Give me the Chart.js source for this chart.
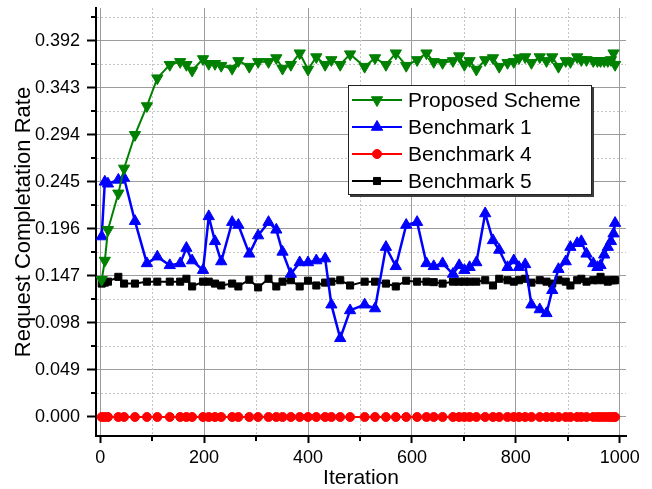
<!DOCTYPE html>
<html>
<head>
<meta charset="utf-8">
<script src="https://cdn.jsdelivr.net/npm/chart.js@4/dist/chart.umd.min.js"></script>
<style>
html,body{margin:0;padding:0;background:#fff;}
canvas{display:block;}
</style>
</head>
<body>
<canvas id="c" width="652" height="489"></canvas>
<script>
const iterations = [3,9,15,35,46,67,90,110,134,154,166,177,198,209,221,233,254,266,287,304,324,339,351,367,384,400,416,433,445,462,481,509,529,550,569,589,610,628,642,659,679,691,701,711,724,741,756,768,784,796,806,818,830,846,859,870,882,896,905,918,926,936,949,957,963,970,977,983,988,991];

const proposedScheme = [0.143,0.163,0.195,0.233,0.259,0.294,0.324,0.353,0.367,0.370,0.367,0.361,0.373,0.368,0.368,0.366,0.363,0.371,0.365,0.370,0.370,0.374,0.363,0.367,0.379,0.362,0.375,0.367,0.372,0.367,0.378,0.365,0.374,0.367,0.379,0.366,0.372,0.379,0.370,0.369,0.371,0.376,0.367,0.371,0.362,0.372,0.374,0.365,0.369,0.370,0.374,0.375,0.369,0.375,0.371,0.375,0.365,0.371,0.370,0.375,0.372,0.372,0.371,0.371,0.371,0.371,0.371,0.372,0.379,0.367];

const benchmark1 = [0.188,0.245,0.243,0.247,0.249,0.204,0.160,0.167,0.158,0.160,0.176,0.163,0.153,0.209,0.183,0.162,0.203,0.200,0.170,0.189,0.203,0.195,0.172,0.149,0.161,0.161,0.163,0.165,0.117,0.082,0.111,0.117,0.113,0.177,0.157,0.200,0.203,0.160,0.157,0.160,0.149,0.158,0.153,0.156,0.161,0.212,0.184,0.174,0.156,0.163,0.156,0.159,0.117,0.112,0.108,0.132,0.154,0.162,0.177,0.181,0.183,0.170,0.160,0.156,0.158,0.169,0.177,0.183,0.191,0.202];

const benchmark4 = [0,0,0,0,0,0,0,0,0,0,0,0,0,0,0,0,0,0,0,0,0,0,0,0,0,0,0,0,0,0,0,0,0,0,0,0,0,0,0,0,0,0,0,0,0,0,0,0,0,0,0,0,0,0,0,0,0,0,0,0,0,0,0,0,0,0,0,0,0,0];

const benchmark5 = [0.139,0.140,0.141,0.146,0.139,0.139,0.141,0.141,0.141,0.141,0.144,0.136,0.141,0.141,0.139,0.137,0.139,0.136,0.143,0.135,0.144,0.136,0.141,0.1425,0.136,0.142,0.137,0.140,0.141,0.1425,0.137,0.141,0.141,0.139,0.136,0.142,0.141,0.141,0.1405,0.139,0.141,0.141,0.141,0.141,0.141,0.1425,0.137,0.144,0.1425,0.141,0.1425,0.144,0.140,0.1425,0.141,0.139,0.1425,0.141,0.137,0.1425,0.144,0.141,0.1425,0.1425,0.146,0.1425,0.141,0.1425,0.1425,0.1425];

const seriesNames = ['Proposed Scheme','Benchmark 1','Benchmark 4','Benchmark 5'];
const xTicks = [0,200,400,600,800,1000];
const yTicks = [0.000,0.049,0.098,0.147,0.196,0.245,0.294,0.343,0.392];
const xMinor = xTicks.slice(0,-1).map((v,i)=>(v+xTicks[i+1])/2);
const yMinor = yTicks.map((v,i)=> i<yTicks.length-1 ? (v+yTicks[i+1])/2 : v+(v-yTicks[i-1])/2);

const FONT = '"Liberation Sans", Arial, Helvetica, sans-serif';

function pts(vals){ return iterations.map((x,i)=>({x:x, y:vals[i]})); }

const minorPlugin = {
  id:'minorGrid',
  beforeDatasetsDraw(chart){
    const {ctx, chartArea:a, scales:{x, y}} = chart;
    ctx.save();
    ctx.strokeStyle = '#c4c4c4';
    ctx.lineWidth = 1;
    ctx.setLineDash([2,2]);
    xMinor.forEach(v=>{
      const p = Math.round(x.getPixelForValue(v)) + 0.5;
      ctx.beginPath(); ctx.moveTo(p, a.top); ctx.lineTo(p, a.bottom); ctx.stroke();
    });
    yMinor.forEach(v=>{
      const p = Math.round(y.getPixelForValue(v)) + 0.5;
      if (p < a.top) return;
      ctx.beginPath(); ctx.moveTo(a.left+1, p); ctx.lineTo(a.right, p); ctx.stroke();
    });
    ctx.setLineDash([]);
    ctx.strokeStyle = '#000';
    ctx.lineWidth = 2;
    xMinor.forEach(v=>{
      const p = Math.round(x.getPixelForValue(v));
      ctx.beginPath(); ctx.moveTo(p, a.bottom); ctx.lineTo(p, a.bottom+5); ctx.stroke();
    });
    yMinor.forEach(v=>{
      const p = Math.round(y.getPixelForValue(v));
      if (p < a.top) return;
      ctx.beginPath(); ctx.moveTo(a.left-5, p); ctx.lineTo(a.left, p); ctx.stroke();
    });
    ctx.restore();
  }
};

function drawMarker(ctx, ds, x, y){
  const opts = {pointStyle: ds.pointStyle, rotation: ds.pointRotation||0, radius: ds.pointRadius, borderWidth: 1};
  ctx.fillStyle = ds.pointBackgroundColor;
  ctx.strokeStyle = ds.pointBorderColor;
  ctx.lineWidth = 1;
  if (Chart.helpers && Chart.helpers.drawPoint) {
    Chart.helpers.drawPoint(ctx, opts, x, y);
  } else {
    ctx.beginPath(); ctx.arc(x, y, ds.pointRadius, 0, Math.PI*2); ctx.fill();
  }
}

const legendPlugin = {
  id:'boxLegend',
  afterDraw(chart){
    const {ctx, chartArea:a} = chart;
    const left = a.left + 252, top = a.top + 77, w = 243, h = 109;
    ctx.save();
    ctx.fillStyle = '#3c3c3c';
    ctx.fillRect(left+2, top+2, w+1, h+1);
    ctx.fillStyle = '#fff';
    ctx.fillRect(left, top, w, h);
    ctx.strokeStyle = '#222';
    ctx.lineWidth = 1;
    ctx.strokeRect(left+0.5, top+0.5, w, h);
    chart.data.datasets.forEach((ds, i)=>{
      const cy = top + 15 + i*27;
      ctx.strokeStyle = ds.borderColor;
      ctx.lineWidth = 2;
      ctx.beginPath(); ctx.moveTo(left+4, cy); ctx.lineTo(left+54, cy); ctx.stroke();
      drawMarker(ctx, ds, left+29, cy);
      ctx.fillStyle = '#000';
      ctx.font = '21px ' + FONT;
      ctx.textAlign = 'left';
      ctx.textBaseline = 'middle';
      ctx.fillText(ds.label, left+60, cy+1);
    });
    ctx.restore();
  }
};

function mkSet(label, vals, color, style, radius, rot, bw){
  return {
    label: label, data: pts(vals),
    borderColor: color, backgroundColor: color,
    pointBackgroundColor: color, pointBorderColor: color,
    pointStyle: style, pointRadius: radius, pointRotation: rot, pointBorderWidth: 1,
    borderWidth: bw, tension: 0, fill: false
  };
}

new Chart(document.getElementById('c'), {
  type: 'line',
  data: {
    datasets: [
      mkSet(seriesNames[0], proposedScheme, '#008000', 'triangle', 6.5, 180, 2),
      mkSet(seriesNames[1], benchmark1, '#0000ff', 'triangle', 6.5, 0, 2.5),
      mkSet(seriesNames[2], benchmark4, '#ff0000', 'circle', 4.5, 0, 2),
      mkSet(seriesNames[3], benchmark5, '#000000', 'rect', 5, 0, 2)
    ]
  },
  options: {
    responsive: false,
    animation: false,
    devicePixelRatio: 1,
    layout: {padding: {top: 8, right: 26, bottom: 0, left: 0}},
    plugins: {legend: {display: false}, tooltip: {enabled: false}},
    scales: {
      x: {
        type: 'linear', min: -8, max: 1012,
        afterBuildTicks: s => { s.ticks = xTicks.map(v => ({value: v})); },
        afterFit: s => { s.height = 53; s.paddingLeft = 0; s.paddingRight = 0; },
        grid: {color: '#9c9c9c', lineWidth: 1, tickLength: 7, tickColor: '#000', tickWidth: 2},
        border: {color: '#000', width: 2},
        ticks: {color: '#000', font: {family: FONT, size: 18}, padding: 4, maxRotation: 0, autoSkip: false,
                callback: v => String(v)},
        title: {display: true, text: 'Iteration', color: '#000',
                font: {family: FONT, size: 21, lineHeight: 1}, padding: {top: 0, bottom: 0}}
      },
      y: {
        type: 'linear', min: -0.0198, max: 0.4261,
        afterBuildTicks: s => { s.ticks = yTicks.map(v => ({value: v})); },
        afterFit: s => { s.width = 96; s.paddingTop = 0; s.paddingBottom = 0; },
        grid: {color: '#9c9c9c', lineWidth: 1, tickLength: 9, tickColor: '#000', tickWidth: 2},
        border: {color: '#000', width: 2},
        ticks: {color: '#000', font: {family: FONT, size: 18}, padding: 7, autoSkip: false,
                callback: v => Number(v).toFixed(3)},
        title: {display: true, text: 'Request Completation Rate', color: '#000',
                font: {family: FONT, size: 22, lineHeight: 1}, padding: {top: 13, bottom: 0}}
      }
    }
  },
  plugins: [minorPlugin, legendPlugin]
});
</script>
</body>
</html>
